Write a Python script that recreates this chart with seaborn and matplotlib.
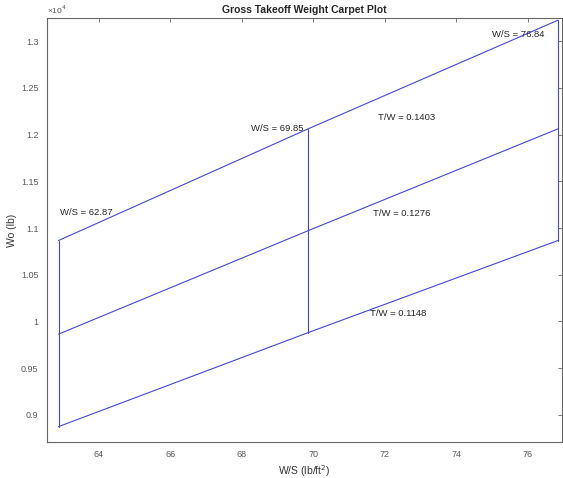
import pandas as pd
import matplotlib
matplotlib.use("Agg")
import matplotlib.pyplot as plt
import seaborn as sns
from matplotlib.ticker import FuncFormatter

# =========================
# Data
# =========================
ws_values = [62.87, 69.85, 76.84]          # W/S (lb/ft^2)
tw_values = [0.1148, 0.1276, 0.1403]       # T/W
wo_tw_low = [8874, 9880, 10866]            # Wo (lb) for T/W = 0.1148
wo_tw_mid = [9864, 10971, 12061]           # Wo (lb) for T/W = 0.1276
wo_tw_high = [10866, 12061, 13224]         # Wo (lb) for T/W = 0.1403

rows = []
for tw, wo in zip(tw_values, [wo_tw_low, wo_tw_mid, wo_tw_high]):
    for ws, w in zip(ws_values, wo):
        rows.append({"ws": ws, "tw": tw, "wo": w})
df = pd.DataFrame(rows)

sns.set_style("white")
plt.rcParams["font.family"] = ["Liberation Sans", "DejaVu Sans"]

fig = plt.figure(figsize=(5.63, 4.78), dpi=100)
ax = fig.add_axes([0.083, 0.076, 0.915, 0.886])

blue = "#4646d6"

# constant T/W lines
sns.lineplot(data=df, x="ws", y="wo", units="tw", estimator=None, sort=False,
             color=blue, lw=0.8, ax=ax)
# constant W/S lines
sns.lineplot(data=df, x="ws", y="wo", units="ws", estimator=None, sort=False,
             orient="y", color=blue, lw=0.8, ax=ax)

# =========================
# Labels on the carpet
# =========================
fs = 6.8
ax.text(62.91, 11161, "W/S = 62.87", fontsize=fs, va="center", ha="left")
ax.text(69.72, 12065, "W/S = 69.85", fontsize=fs, va="center", ha="right")
ax.text(75.0, 13067, "W/S = 76.84", fontsize=fs, va="center", ha="left")
ax.text(71.80, 12183, "T/W = 0.1403", fontsize=fs, va="center", ha="left")
ax.text(71.66, 11150, "T/W = 0.1276", fontsize=fs, va="center", ha="left")
ax.text(71.58, 10086, "T/W = 0.1148", fontsize=fs, va="center", ha="left")

# =========================
# Axes styling (MATLAB look)
# =========================
ax.set_xlim(62.54, 76.95)
ax.set_ylim(8713, 13246)
ax.set_xticks([64, 66, 68, 70, 72, 74, 76])
ax.set_yticks([9000, 9500, 10000, 10500, 11000, 11500, 12000, 12500, 13000])
ax.yaxis.set_major_formatter(FuncFormatter(lambda v, p: "%g" % round(v / 1e4, 3)))
ax.tick_params(direction="in", length=3, width=0.6, top=True, right=True,
               labelsize=6.5, colors="#666666", labelcolor="#5a5a5a", pad=6)
for sp in ax.spines.values():
    sp.set_color("#666666")
    sp.set_linewidth(0.8)

ax.set_xlabel("W/S (lb/ft$^2$)", fontsize=7.5, color="#333333", labelpad=3)
ax.set_ylabel("Wo (lb)", fontsize=7.5, color="#333333", labelpad=3)
ax.set_title("Gross Takeoff Weight Carpet Plot", fontsize=7.5, fontweight="bold", pad=4)
ax.text(0.0, 1.004, "\u00d710$^4$", transform=ax.transAxes, fontsize=6,
        color="#555555", ha="left", va="bottom")

fig.savefig("out.png", dpi=100)
